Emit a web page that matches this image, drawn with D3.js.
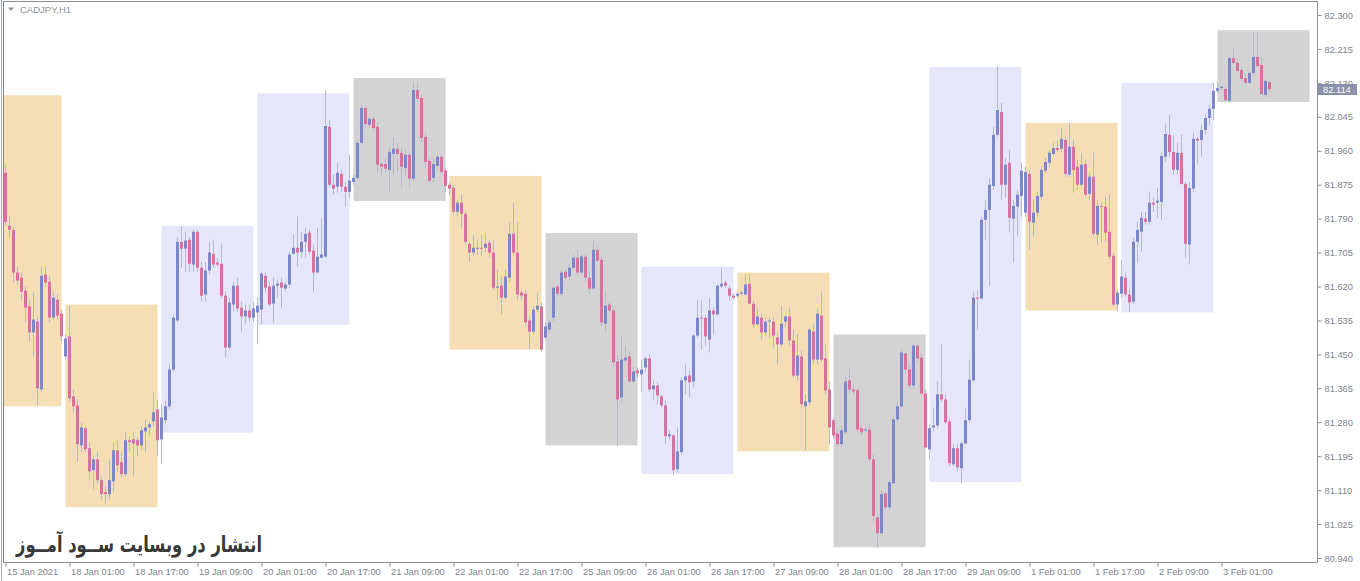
<!DOCTYPE html>
<html>
<head>
<meta charset="utf-8">
<script src="https://cdn.jsdelivr.net/npm/d3@7"></script>
<style>
  html, body { margin: 0; padding: 0; background: #ffffff; }
  svg { display: block; }
  .axisText { font-family: "Liberation Sans", Arial, sans-serif; font-size: 9.3px; fill: #7d838c; }
</style>
</head>
<body>
<div id="chart"></div>
<script>
// CADJPY H1, 15 Jan 2021 09:00 .. 3 Feb 2021 13:00 (one value per hour bar)
var open = [
  // 15 Jan
  81.905, 81.772, 81.762, 81.655, 81.642, 81.610, 81.570, 81.505, 81.532, 81.362, 81.650, 81.632, 81.542, 81.587, 81.552,
  // 18 Jan
  81.445, 81.495, 81.345, 81.322, 81.222, 81.265, 81.215, 81.160, 81.187, 81.135, 81.105, 81.100, 81.132, 81.210, 81.180, 81.150, 81.235, 81.237, 81.235, 81.222, 81.257, 81.267, 81.282, 81.312,
  // 19 Jan
  81.237, 81.285, 81.320, 81.412, 81.535, 81.732, 81.715, 81.737, 81.675, 81.757, 81.667, 81.600, 81.660, 81.702, 81.680, 81.677, 81.597, 81.467, 81.575, 81.622, 81.567, 81.545, 81.560, 81.542,
  // 20 Jan
  81.555, 81.562, 81.647, 81.620, 81.577, 81.622, 81.630, 81.615, 81.625, 81.702, 81.717, 81.707, 81.732, 81.755, 81.710, 81.655, 81.692, 81.695, 82.020, 81.875, 81.870, 81.902, 81.870, 81.857,
  // 21 Jan
  81.882, 81.892, 81.980, 82.067, 82.025, 82.040, 82.020, 81.927, 81.927, 81.912, 81.952, 81.965, 81.955, 81.917, 81.950, 81.890, 82.112, 82.092, 81.995, 81.935, 81.892, 81.922, 81.945, 81.910,
  // 22 Jan
  81.875, 81.867, 81.807, 81.830, 81.802, 81.727, 81.705, 81.715, 81.717, 81.717, 81.730, 81.705, 81.617, 81.622, 81.592, 81.642, 81.752, 81.705, 81.605, 81.602, 81.535, 81.507, 81.562, 81.570,
  // 25 Jan
  81.492, 81.512, 81.542, 81.620, 81.602, 81.657, 81.645, 81.667, 81.692, 81.655, 81.695, 81.642, 81.615, 81.712, 81.687, 81.527, 81.575, 81.560, 81.432, 81.342, 81.435, 81.445, 81.382, 81.410,
  // 26 Jan
  81.400, 81.417, 81.440, 81.362, 81.372, 81.345, 81.322, 81.245, 81.247, 81.162, 81.205, 81.385, 81.397, 81.382, 81.497, 81.542, 81.542, 81.487, 81.560, 81.550, 81.620, 81.630, 81.615, 81.597,
  // 27 Jan
  81.597, 81.602, 81.600, 81.627, 81.577, 81.525, 81.542, 81.505, 81.532, 81.532, 81.492, 81.475, 81.532, 81.545, 81.485, 81.397, 81.445, 81.320, 81.330, 81.507, 81.437, 81.547, 81.440, 81.362,
  // 28 Jan
  81.285, 81.252, 81.225, 81.255, 81.385, 81.362, 81.360, 81.265, 81.260, 81.262, 81.187, 81.042, 81.002, 81.102, 81.067, 81.127, 81.287, 81.320, 81.452, 81.412, 81.372, 81.472, 81.442, 81.352,
  // 29 Jan
  81.212, 81.267, 81.272, 81.350, 81.337, 81.282, 81.175, 81.215, 81.165, 81.227, 81.285, 81.385, 81.592, 81.590, 81.787, 81.812, 81.872, 82.000, 82.057, 81.875, 81.930, 81.790, 81.820, 81.847,
  // 1 Feb
  81.805, 81.902, 81.780, 81.805, 81.845, 81.910, 81.930, 81.952, 81.967, 81.965, 81.987, 81.900, 81.970, 81.920, 81.875, 81.927, 81.852, 81.895, 81.750, 81.822, 81.820, 81.757, 81.697, 81.575,
  // 2 Feb
  81.602, 81.642, 81.600, 81.582, 81.732, 81.757, 81.790, 81.782, 81.830, 81.830, 81.832, 81.945, 82.000, 81.957, 81.912, 81.955, 81.877, 81.725, 81.865, 81.990, 81.987, 82.012, 82.042, 82.065,
  // 3 Feb
  82.110, 82.117, 82.115, 82.085, 82.192, 82.180, 82.162, 82.142, 82.130, 82.155, 82.195, 82.175, 82.100, 82.132
];
var high = [
  81.925, 81.795, 81.770, 81.670, 81.655, 81.620, 81.587, 81.605, 81.545, 81.670, 81.670, 81.645, 81.607, 81.600, 81.562,
  81.500, 81.572, 81.362, 81.337, 81.280, 81.270, 81.230, 81.195, 81.207, 81.145, 81.120, 81.187, 81.230, 81.237, 81.205, 81.255, 81.245, 81.255, 81.242, 81.270, 81.287, 81.280, 81.355, 81.337,
  81.325, 81.337, 81.425, 81.550, 81.742, 81.770, 81.757, 81.745, 81.762, 81.762, 81.682, 81.682, 81.732, 81.737, 81.692, 81.725, 81.607, 81.592, 81.632, 81.642, 81.582, 81.575, 81.575, 81.582,
  81.592, 81.657, 81.655, 81.632, 81.642, 81.637, 81.642, 81.632, 81.707, 81.750, 81.795, 81.757, 81.767, 81.762, 81.725, 81.767, 81.792, 82.112, 82.037, 81.900, 81.930, 81.912, 81.882, 81.950,
  81.900, 81.987, 82.075, 82.070, 82.045, 82.045, 82.030, 81.932, 81.942, 81.970, 81.995, 81.980, 81.967, 81.962, 81.957, 82.132, 82.130, 82.100, 82.007, 81.942, 81.942, 81.950, 81.950, 81.917,
  81.882, 81.875, 81.837, 81.850, 81.807, 81.732, 81.750, 81.737, 81.750, 81.755, 81.737, 81.737, 81.662, 81.645, 81.662, 81.780, 81.830, 81.780, 81.612, 81.612, 81.545, 81.570, 81.605, 81.580,
  81.530, 81.537, 81.620, 81.625, 81.662, 81.662, 81.675, 81.700, 81.712, 81.700, 81.700, 81.655, 81.737, 81.720, 81.695, 81.612, 81.582, 81.567, 81.445, 81.495, 81.470, 81.455, 81.420, 81.417,
  81.437, 81.445, 81.450, 81.385, 81.380, 81.350, 81.335, 81.260, 81.250, 81.267, 81.392, 81.425, 81.410, 81.500, 81.587, 81.585, 81.550, 81.592, 81.567, 81.625, 81.667, 81.635, 81.622, 81.602,
  81.607, 81.610, 81.650, 81.650, 81.585, 81.567, 81.550, 81.542, 81.542, 81.542, 81.505, 81.572, 81.550, 81.567, 81.512, 81.500, 81.460, 81.350, 81.517, 81.525, 81.567, 81.607, 81.475, 81.382,
  81.290, 81.262, 81.270, 81.395, 81.415, 81.375, 81.365, 81.272, 81.270, 81.275, 81.200, 81.050, 81.107, 81.107, 81.137, 81.295, 81.332, 81.462, 81.457, 81.425, 81.477, 81.477, 81.450, 81.362,
  81.275, 81.317, 81.382, 81.475, 81.350, 81.290, 81.225, 81.225, 81.232, 81.317, 81.437, 81.605, 81.612, 81.795, 81.837, 81.892, 82.020, 82.170, 82.080, 81.942, 81.962, 81.837, 81.862, 81.930,
  81.920, 81.912, 81.837, 81.857, 81.920, 81.942, 81.962, 81.980, 81.987, 82.017, 81.995, 82.030, 81.987, 81.937, 81.955, 81.937, 81.905, 81.955, 81.837, 81.830, 81.845, 81.850, 81.705, 81.612,
  81.687, 81.655, 81.617, 81.742, 81.782, 81.807, 81.807, 81.857, 81.842, 81.867, 81.957, 82.025, 82.050, 82.000, 81.980, 82.000, 81.882, 81.882, 82.005, 81.995, 82.025, 82.050, 82.075, 82.130,
  82.132, 82.125, 82.120, 82.200, 82.217, 82.192, 82.170, 82.150, 82.157, 82.257, 82.257, 82.192, 82.137, 82.135
];
var low = [
  81.772, 81.744, 81.630, 81.625, 81.587, 81.530, 81.482, 81.445, 81.320, 81.355, 81.620, 81.530, 81.537, 81.537, 81.482,
  81.437, 81.332, 81.305, 81.180, 81.205, 81.205, 81.137, 81.112, 81.125, 81.087, 81.075, 81.087, 81.105, 81.155, 81.142, 81.145, 81.205, 81.145, 81.195, 81.212, 81.205, 81.245, 81.270, 81.195,
  81.175, 81.275, 81.312, 81.407, 81.530, 81.667, 81.657, 81.657, 81.657, 81.657, 81.582, 81.582, 81.650, 81.667, 81.670, 81.592, 81.442, 81.462, 81.557, 81.557, 81.505, 81.525, 81.532, 81.530,
  81.475, 81.525, 81.607, 81.570, 81.530, 81.592, 81.567, 81.607, 81.617, 81.700, 81.670, 81.692, 81.692, 81.700, 81.607, 81.655, 81.692, 81.692, 81.870, 81.850, 81.855, 81.857, 81.820, 81.842,
  81.875, 81.887, 81.975, 82.020, 82.017, 82.012, 81.907, 81.900, 81.907, 81.857, 81.900, 81.907, 81.867, 81.900, 81.867, 81.882, 82.082, 81.982, 81.917, 81.880, 81.882, 81.912, 81.900, 81.857,
  81.850, 81.800, 81.795, 81.767, 81.725, 81.682, 81.695, 81.700, 81.695, 81.707, 81.692, 81.612, 81.587, 81.550, 81.587, 81.630, 81.695, 81.587, 81.587, 81.520, 81.462, 81.500, 81.555, 81.457,
  81.487, 81.507, 81.532, 81.595, 81.595, 81.637, 81.637, 81.662, 81.650, 81.650, 81.632, 81.600, 81.612, 81.680, 81.520, 81.505, 81.555, 81.420, 81.220, 81.330, 81.430, 81.380, 81.380, 81.392,
  81.355, 81.405, 81.355, 81.335, 81.325, 81.317, 81.225, 81.235, 81.147, 81.155, 81.200, 81.350, 81.342, 81.367, 81.492, 81.462, 81.472, 81.455, 81.500, 81.547, 81.617, 81.617, 81.585, 81.587,
  81.592, 81.597, 81.597, 81.575, 81.517, 81.522, 81.487, 81.497, 81.492, 81.467, 81.425, 81.467, 81.517, 81.472, 81.392, 81.385, 81.317, 81.210, 81.325, 81.425, 81.425, 81.432, 81.350, 81.225,
  81.240, 81.217, 81.220, 81.250, 81.352, 81.350, 81.257, 81.247, 81.255, 81.182, 81.032, 80.965, 81.000, 81.062, 81.062, 81.125, 81.282, 81.315, 81.402, 81.365, 81.365, 81.432, 81.350, 81.215,
  81.187, 81.257, 81.265, 81.332, 81.275, 81.170, 81.170, 81.157, 81.127, 81.225, 81.280, 81.380, 81.512, 81.587, 81.737, 81.620, 81.862, 81.995, 81.837, 81.842, 81.755, 81.680, 81.745, 81.795,
  81.795, 81.712, 81.745, 81.795, 81.837, 81.905, 81.920, 81.945, 81.957, 81.957, 81.895, 81.895, 81.855, 81.862, 81.870, 81.845, 81.837, 81.745, 81.725, 81.730, 81.732, 81.687, 81.570, 81.557,
  81.592, 81.595, 81.555, 81.575, 81.680, 81.707, 81.775, 81.775, 81.807, 81.792, 81.787, 81.932, 81.945, 81.900, 81.900, 81.875, 81.692, 81.675, 81.857, 81.925, 81.945, 82.000, 82.025, 82.037,
  82.105, 82.112, 82.082, 82.080, 82.175, 82.155, 82.132, 82.125, 82.125, 82.150, 82.170, 82.100, 82.095, 82.107
];
var close = [
  81.782, 81.762, 81.655, 81.635, 81.607, 81.567, 81.505, 81.537, 81.365, 81.647, 81.630, 81.542, 81.592, 81.547, 81.495,
  81.490, 81.340, 81.320, 81.225, 81.267, 81.212, 81.157, 81.187, 81.135, 81.100, 81.100, 81.135, 81.210, 81.172, 81.150, 81.235, 81.230, 81.227, 81.222, 81.260, 81.267, 81.275, 81.305, 81.235,
  81.292, 81.320, 81.412, 81.542, 81.732, 81.715, 81.735, 81.677, 81.757, 81.667, 81.597, 81.660, 81.705, 81.675, 81.675, 81.597, 81.467, 81.580, 81.622, 81.565, 81.545, 81.560, 81.542, 81.565,
  81.572, 81.652, 81.617, 81.575, 81.622, 81.627, 81.617, 81.625, 81.700, 81.717, 81.705, 81.732, 81.752, 81.707, 81.655, 81.695, 81.700, 82.022, 81.875, 81.865, 81.905, 81.870, 81.857, 81.885,
  81.892, 81.980, 82.067, 82.027, 82.040, 82.017, 81.925, 81.920, 81.915, 81.957, 81.965, 81.952, 81.920, 81.950, 81.890, 82.112, 82.090, 81.992, 81.932, 81.885, 81.927, 81.945, 81.907, 81.872,
  81.865, 81.807, 81.830, 81.802, 81.732, 81.705, 81.717, 81.717, 81.715, 81.727, 81.705, 81.617, 81.620, 81.592, 81.645, 81.752, 81.705, 81.600, 81.597, 81.530, 81.507, 81.562, 81.572, 81.462,
  81.520, 81.530, 81.617, 81.602, 81.655, 81.642, 81.667, 81.692, 81.655, 81.695, 81.642, 81.615, 81.712, 81.685, 81.530, 81.572, 81.560, 81.430, 81.337, 81.437, 81.442, 81.382, 81.407, 81.402,
  81.412, 81.440, 81.362, 81.372, 81.347, 81.322, 81.245, 81.250, 81.160, 81.207, 81.385, 81.395, 81.380, 81.497, 81.542, 81.540, 81.495, 81.560, 81.550, 81.622, 81.627, 81.622, 81.597, 81.592,
  81.602, 81.605, 81.625, 81.577, 81.525, 81.545, 81.505, 81.532, 81.535, 81.497, 81.475, 81.527, 81.545, 81.485, 81.397, 81.447, 81.325, 81.332, 81.512, 81.437, 81.552, 81.437, 81.360, 81.267,
  81.247, 81.225, 81.260, 81.382, 81.362, 81.357, 81.262, 81.255, 81.262, 81.187, 81.045, 81.002, 81.100, 81.067, 81.130, 81.287, 81.320, 81.455, 81.412, 81.372, 81.472, 81.440, 81.352, 81.217,
  81.265, 81.272, 81.350, 81.337, 81.280, 81.177, 81.215, 81.167, 81.227, 81.285, 81.387, 81.592, 81.590, 81.787, 81.812, 81.875, 82.000, 82.062, 81.875, 81.925, 81.792, 81.822, 81.850, 81.910,
  81.907, 81.782, 81.805, 81.847, 81.912, 81.932, 81.955, 81.967, 81.962, 81.990, 81.902, 81.970, 81.912, 81.875, 81.925, 81.850, 81.895, 81.752, 81.822, 81.820, 81.755, 81.695, 81.575, 81.605,
  81.645, 81.600, 81.580, 81.732, 81.762, 81.792, 81.782, 81.830, 81.825, 81.835, 81.947, 82.002, 81.957, 81.912, 81.955, 81.877, 81.727, 81.867, 81.990, 81.985, 82.012, 82.042, 82.065, 82.110,
  82.117, 82.120, 82.087, 82.192, 82.180, 82.160, 82.140, 82.130, 82.155, 82.195, 82.172, 82.102, 82.135, 82.114
];

// daily range rectangles (each day = 24 bars, first visible bar is 15 Jan 09:00)
var days    = ["15 Jan", "18 Jan", "19 Jan", "20 Jan", "21 Jan", "22 Jan", "25 Jan", "26 Jan", "27 Jan", "28 Jan", "29 Jan", "1 Feb", "2 Feb", "3 Feb"];
var dayHigh = [82.099, 81.575, 81.772, 82.104, 82.142, 81.897, 81.754, 81.670, 81.655, 81.500, 82.170, 82.030, 82.130, 82.262];
var dayLow  = [81.320, 81.067, 81.254, 81.524, 81.834, 81.462, 81.222, 81.150, 81.207, 80.967, 81.130, 81.560, 81.555, 82.082];
var dayKind = ["down", "down", "up", "up", "flat", "down", "flat", "up", "down", "flat", "up", "down", "up", "flat"];
var firstDayBar = -9;   // 15 Jan 00:00 sits 9 bars left of the first visible bar

var priceTicks = [82.300, 82.215, 82.130, 82.045, 81.960, 81.875, 81.790, 81.705, 81.620, 81.535, 81.450, 81.365, 81.280, 81.195, 81.110, 81.025, 80.940];
var timeLabels = ["15 Jan 2021", "18 Jan 01:00", "18 Jan 17:00", "19 Jan 09:00", "20 Jan 01:00", "20 Jan 17:00", "21 Jan 09:00",
                  "22 Jan 01:00", "22 Jan 17:00", "25 Jan 09:00", "26 Jan 01:00", "26 Jan 17:00", "27 Jan 09:00", "28 Jan 01:00",
                  "28 Jan 17:00", "29 Jan 09:00", "1 Feb 01:00", "1 Feb 17:00", "2 Feb 09:00", "3 Feb 01:00"];
var labelEvery = 16;
var lastPrice = 82.114;

var width = 1360, height = 581;
var plotLeft = 4, plotRight = 1317, plotTop = 2, plotBottom = 562;
var boxColors = {down: "#f5deb3", up: "#e6e6fa", flat: "#d3d3d3"};
var upColor = "#7c87c9", downColor = "#d9719f", wickColor = "#b7bbc9";

var x = d3.scaleLinear().domain([0, open.length - 1]).range([5.5, 5.5 + 4 * (open.length - 1)]);
var y = d3.scaleLinear().domain([80.940, 82.300]).range([558, 15]);

var svg = d3.select("#chart").append("svg")
    .attr("width", width)
    .attr("height", height);

svg.append("defs").append("clipPath")
    .attr("id", "plotClip")
    .append("rect")
    .attr("x", plotLeft)
    .attr("y", plotTop)
    .attr("width", plotRight - plotLeft)
    .attr("height", plotBottom - plotTop);

var plot = svg.append("g").attr("clip-path", "url(#plotClip)");

// day boxes in the background
plot.append("g").selectAll(".dayBox")
    .data(days)
    .enter()
    .append("rect")
    .attr("class", "dayBox")
    .attr("x", function(d, i) { return x(firstDayBar + 24 * i); })
    .attr("width", function() { return x(23) - x(0); })
    .attr("y", function(d, i) { return y(dayHigh[i]); })
    .attr("height", function(d, i) { return y(dayLow[i]) - y(dayHigh[i]); })
    .attr("fill", function(d, i) { return boxColors[dayKind[i]]; });

var bars = d3.range(open.length);

plot.append("g").selectAll(".wick")
    .data(bars)
    .enter()
    .append("line")
    .attr("class", "wick")
    .attr("x1", function(i) { return x(i); })
    .attr("x2", function(i) { return x(i); })
    .attr("y1", function(i) { return y(high[i]); })
    .attr("y2", function(i) { return y(low[i]); })
    .attr("stroke", wickColor)
    .attr("stroke-width", 1);

plot.append("g").selectAll(".body")
    .data(bars)
    .enter()
    .append("rect")
    .attr("class", "body")
    .attr("x", function(i) { return x(i) - 1.5; })
    .attr("width", 3)
    .attr("y", function(i) { return y(Math.max(open[i], close[i])); })
    .attr("height", function(i) {
        return Math.max(1, Math.abs(y(open[i]) - y(close[i])));
    })
    .attr("fill", function(i) { return close[i] >= open[i] ? upColor : downColor; });

// frame
svg.append("line").attr("x1", 1.5).attr("x2", 1.5).attr("y1", 0).attr("y2", 581).attr("stroke", "#a9adb3");
svg.append("line").attr("x1", 3.5).attr("x2", 3.5).attr("y1", 1).attr("y2", plotBottom).attr("stroke", "#7f868e");
svg.append("line").attr("x1", 3).attr("x2", plotRight + 0.5).attr("y1", 1.5).attr("y2", 1.5).attr("stroke", "#8a9098");

// price axis
var yAxis = d3.axisRight(y)
    .tickValues(priceTicks)
    .tickFormat(d3.format(".3f"))
    .tickSize(4)
    .tickPadding(3);
var yAxisG = svg.append("g")
    .attr("transform", "translate(" + (plotRight + 0.5) + ",0)")
    .call(yAxis);
yAxisG.select(".domain").attr("d", "M0,1V" + (plotBottom + 0.5)).attr("stroke", "#8a9098");
yAxisG.selectAll(".tick line").attr("stroke", "#8a9098");
yAxisG.selectAll(".tick text").attr("class", "axisText").attr("dy", "0.34em");

// time axis
var xAxis = d3.axisBottom(x)
    .tickValues(timeLabels.map(function(d, i) { return i * labelEvery; }))
    .tickFormat(function(d, i) { return timeLabels[i]; })
    .tickSize(4)
    .tickPadding(2);
var xAxisG = svg.append("g")
    .attr("transform", "translate(0," + (plotBottom + 0.5) + ")")
    .call(xAxis);
xAxisG.select(".domain").attr("d", "M3,0H" + (plotRight + 0.5)).attr("stroke", "#8a9098");
xAxisG.selectAll(".tick line").attr("stroke", "#8a9098");
xAxisG.selectAll(".tick text")
    .attr("class", "axisText")
    .style("text-anchor", "start")
    .attr("x", 1)
    .attr("y", 6)
    .attr("dy", "0.71em");

// current price tag (sits over the 82.130 label, as in the terminal)
var tag = svg.append("g").attr("transform", "translate(" + (plotRight + 1) + "," + Math.round(y(lastPrice)) + ")");
tag.append("rect")
    .attr("x", 0)
    .attr("y", -5)
    .attr("width", 39)
    .attr("height", 11)
    .attr("fill", "#8b91a8");
tag.append("text")
    .attr("x", 5)
    .attr("y", 0.5)
    .attr("dy", "0.34em")
    .style("font-family", "Liberation Sans, Arial, sans-serif")
    .style("font-size", "9.3px")
    .attr("fill", "#ffffff")
    .text(d3.format(".3f")(lastPrice));

// symbol caption
svg.append("path")
    .attr("d", "M8,7.5 L14,7.5 L11,11 Z")
    .attr("fill", "#8d929b");
svg.append("text")
    .attr("x", 20)
    .attr("y", 13)
    .style("font-family", "Liberation Sans, Arial, sans-serif")
    .style("font-size", "9.5px")
    .attr("fill", "#8d929b")
    .text("CADJPY,H1");

// watermark
svg.append("text")
    .attr("x", 139)
    .attr("y", 552)
    .attr("textLength", 246)
    .attr("lengthAdjust", "spacingAndGlyphs")
    .style("text-anchor", "middle")
    .style("font-family", "DejaVu Sans, sans-serif")
    .style("font-weight", "bold")
    .style("font-size", "22px")
    .attr("fill", "#383838")
    .text("انتشار در وبسایت ســود آمــوز");
</script>
</body>
</html>
